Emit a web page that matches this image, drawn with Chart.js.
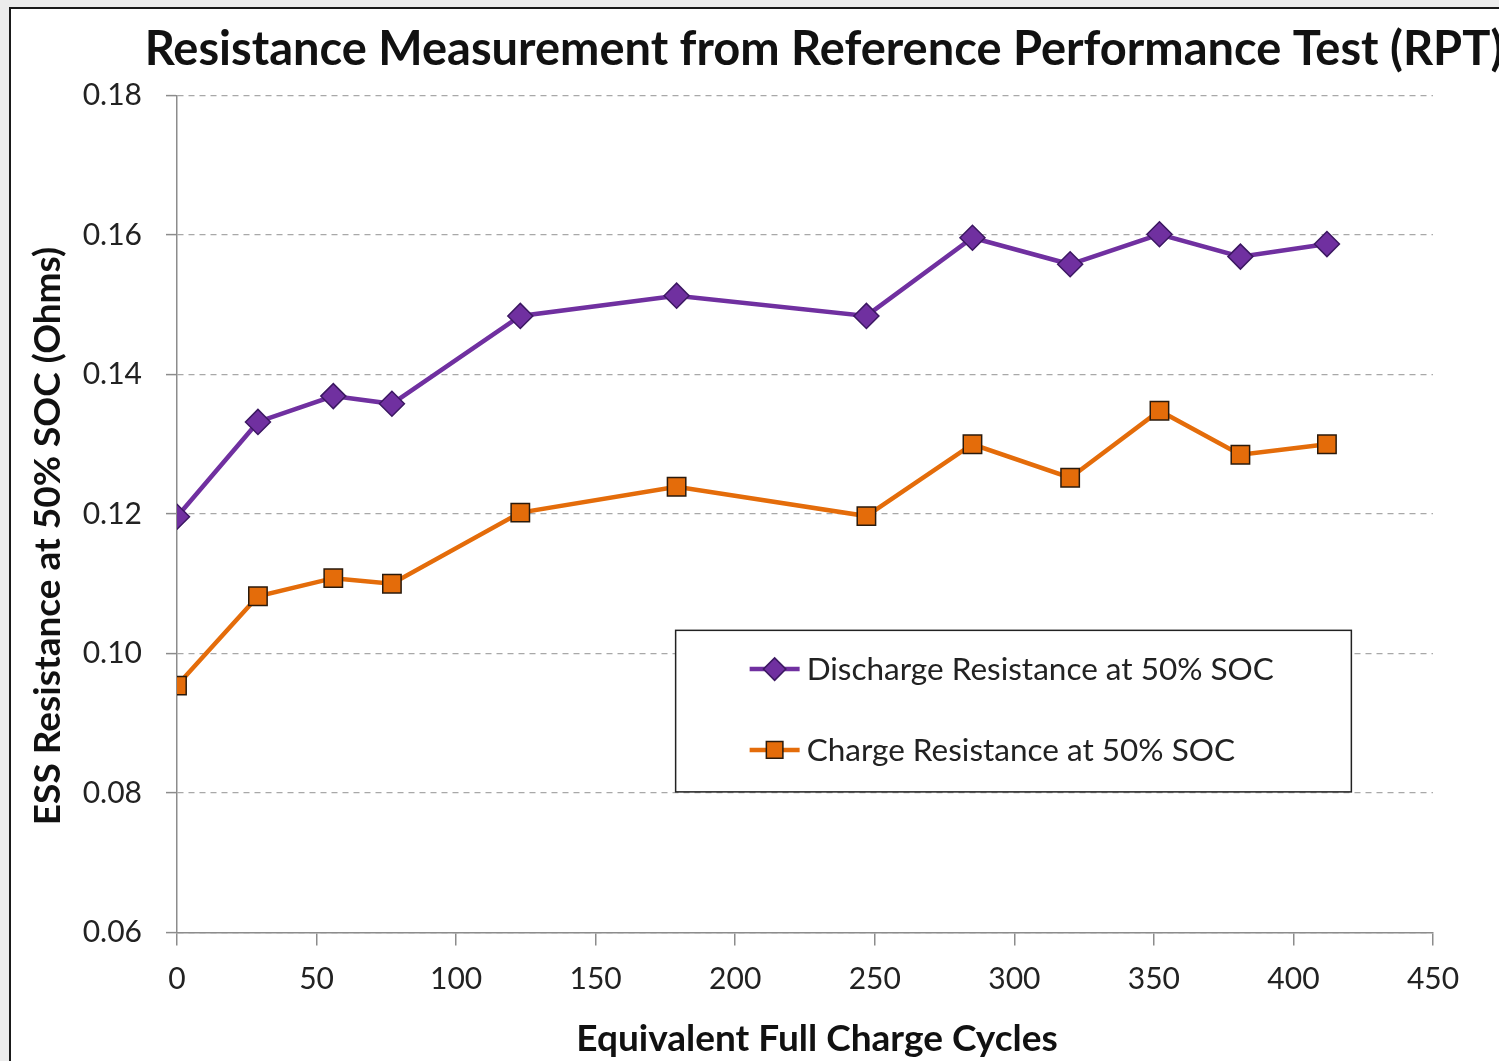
<!DOCTYPE html>
<html>
<head>
<meta charset="utf-8">
<script src="https://cdn.jsdelivr.net/npm/chart.js@4/dist/chart.umd.min.js"></script>
<style>
    html, body { margin: 0; padding: 0; background: #ececec; overflow: hidden; }
    #frame {
        position: absolute; left: 9px; top: 7px;
        width: 1640px; height: 1100px;
        border: 2px solid #1a1a1a; background: #fff;
    }
    #chart { display: block; }
</style>
</head>
<body>
<div id="frame"><canvas id="chart" width="1626" height="1080"></canvas></div>
<script>
// ─── Data ─────────────────────────────────────────────────────────────────────

const cycles = [0, 29, 56, 77, 123, 179, 247, 285, 320, 352, 381, 412];
const dischargeR = [0.1196, 0.1332, 0.1369, 0.1358, 0.1484, 0.1513, 0.1484, 0.1596, 0.1558, 0.1601, 0.1569, 0.1587];
const chargeR = [0.0954, 0.1082, 0.1108, 0.1100, 0.1202, 0.1239, 0.1197, 0.1300, 0.1252, 0.1348, 0.1285, 0.1300];
const seriesLabels = ['Discharge Resistance at 50% SOC', 'Charge Resistance at 50% SOC'];
const yTicks = [0.06, 0.08, 0.10, 0.12, 0.14, 0.16, 0.18];
const xTicks = [0, 50, 100, 150, 200, 250, 300, 350, 400, 450];

const chartTitle = 'Resistance Measurement from Reference Performance Test (RPT)';
const xTitle = 'Equivalent Full Charge Cycles';
const yTitle = 'ESS Resistance at 50% SOC (Ohms)';

// ─── Shared config ────────────────────────────────────────────────────────────

const FONT = 'Lato, "Open Sans", sans-serif';
const colors = {
    purple: '#7030A0',
    purpleEdge: '#3c1862',
    orange: '#E46C0A',
    orangeEdge: '#2a1a0c',
    axis: '#8c8c8c',
    grid: '#a8a8a8',
    text: '#222',
    title: '#111',
};

const toPoints = ys => cycles.map((x, i) => ({ x, y: ys[i] }));

// Titles placed like the Excel original (off-centre from the plot area)
const excelTitles = {
    id: 'excelTitles',
    afterDraw(chart) {
        const { ctx, chartArea: a } = chart;
        ctx.save();
        ctx.fillStyle = colors.title;
        ctx.textAlign = 'center';
        ctx.textBaseline = 'alphabetic';

        ctx.font = 'bold 47px ' + FONT;
        ctx.fillText(chartTitle, chart.width / 2, 56);

        ctx.font = 'bold 37px ' + FONT;
        ctx.fillText(xTitle, (a.left + a.right) / 2 + 12, 1042);

        ctx.translate(49, (a.top + a.bottom) / 2 + 22);
        ctx.rotate(-Math.PI / 2);
        ctx.fillText(yTitle, 0, 0);
        ctx.restore();
    },
};

// Legend box drawn inside the plot area
const insideLegend = {
    id: 'insideLegend',
    afterDatasetsDraw(chart) {
        const { ctx, chartArea: a } = chart;
        const w = a.right - a.left, h = a.bottom - a.top;
        const x0 = a.left + 0.397 * w, x1 = a.left + 0.935 * w;
        const y0 = a.top + 0.639 * h, y1 = a.top + 0.832 * h;
        ctx.save();
        ctx.fillStyle = '#fff';
        ctx.fillRect(x0, y0, x1 - x0, y1 - y0);
        ctx.strokeStyle = '#222';
        ctx.lineWidth = 1.5;
        ctx.strokeRect(x0, y0, x1 - x0, y1 - y0);

        const rows = [y0 + 0.24 * (y1 - y0), y0 + 0.74 * (y1 - y0)];
        chart.data.datasets.forEach((ds, i) => {
            const cy = rows[i];
            const lx = x0 + 74;
            ctx.strokeStyle = ds.borderColor;
            ctx.lineWidth = ds.borderWidth;
            ctx.beginPath();
            ctx.moveTo(lx, cy);
            ctx.lineTo(lx + 50, cy);
            ctx.stroke();
            ctx.fillStyle = ds.pointBackgroundColor;
            ctx.strokeStyle = ds.pointBorderColor;
            ctx.lineWidth = 1.5;
            Chart.helpers.drawPoint(ctx, {
                pointStyle: ds.pointStyle,
                radius: ds.pointRadius * 0.9,
                borderWidth: 1.5,
                rotation: 0,
            }, lx + 25, cy);
            ctx.fillStyle = colors.text;
            ctx.font = '31.5px ' + FONT;
            ctx.textBaseline = 'middle';
            ctx.fillText(ds.label, lx + 57, cy + 1);
        });
        ctx.restore();
    },
};

// ─── Chart ────────────────────────────────────────────────────────────────────

new Chart(document.getElementById('chart'), {
    type: 'line',
    data: {
        datasets: [
            {
                label: seriesLabels[0],
                data: toPoints(dischargeR),
                borderColor: colors.purple,
                backgroundColor: colors.purple,
                borderWidth: 4.5,
                pointStyle: 'rectRot',
                pointRadius: 12.5,
                pointBackgroundColor: colors.purple,
                pointBorderColor: colors.purpleEdge,
                pointBorderWidth: 1.5,
                tension: 0,
            },
            {
                label: seriesLabels[1],
                data: toPoints(chargeR),
                borderColor: colors.orange,
                backgroundColor: colors.orange,
                borderWidth: 4.5,
                pointStyle: 'rect',
                pointRadius: 13,
                pointBackgroundColor: colors.orange,
                pointBorderColor: colors.orangeEdge,
                pointBorderWidth: 1.5,
                tension: 0,
            },
        ],
    },
    options: {
        responsive: false,
        animation: false,
        layout: { padding: { left: 0, right: 204, top: 86.5, bottom: 0 } },
        plugins: {
            legend: { display: false },
            tooltip: { enabled: false },
            title: { display: false },
        },
        scales: {
            x: {
                type: 'linear',
                min: 0,
                max: 450,
                afterBuildTicks: s => { s.ticks = xTicks.map(v => ({ value: v })); },
                afterFit: s => { s.height = 156.5; },
                border: { display: true, color: colors.axis, width: 1.5 },
                grid: { drawOnChartArea: false, drawTicks: true, tickLength: 13, color: colors.axis, lineWidth: 1.5 },
                ticks: { color: colors.text, font: { family: FONT, size: 30 }, padding: 16, maxRotation: 0 },
            },
            y: {
                min: 0.06,
                max: 0.18,
                afterBuildTicks: s => { s.ticks = yTicks.map(v => ({ value: v })); },
                afterFit: s => { s.width = 166; },
                border: { display: true, color: colors.axis, width: 1.5, dash: [6, 5] },
                grid: {
                    color: colors.grid,
                    lineWidth: 1.2,
                    tickLength: 11,
                    tickColor: colors.axis,
                    tickBorderDash: [],
                    tickWidth: 1.5,
                },
                ticks: {
                    color: colors.text,
                    font: { family: FONT, size: 30 },
                    padding: 24,
                    callback: v => v.toFixed(2),
                },
            },
        },
    },
    plugins: [insideLegend, excelTitles],
});
</script>
</body>
</html>
